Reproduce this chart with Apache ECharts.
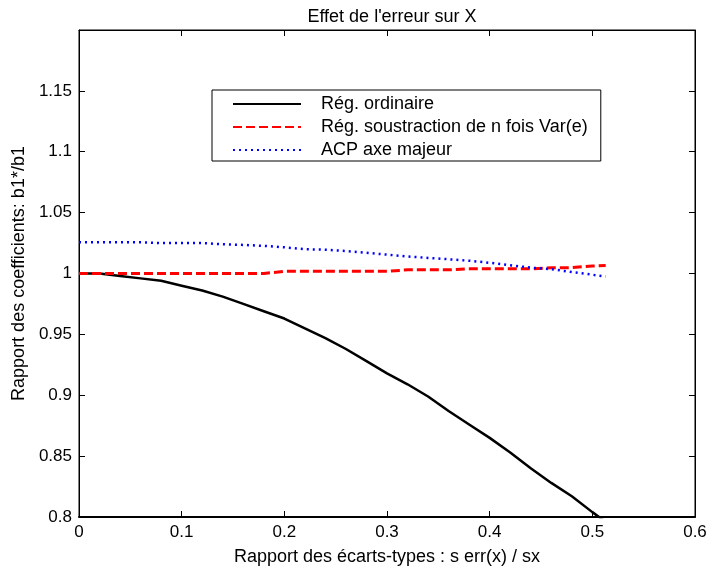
<!DOCTYPE html>
<html>
<head>
<meta charset="utf-8">
<script src="https://cdn.jsdelivr.net/npm/echarts@6/dist/echarts.min.js"></script>
<style>html,body{margin:0;padding:0;background:#fff}#c{width:712px;height:571px}</style>
</head>
<body>
<div id="c"></div>
<script>
var titleText = "Effet de l'erreur sur X";
var xLabel = "Rapport des écarts-types : s err(x) / sx";
var yLabel = "Rapport des coefficients: b1*/b1";
var seriesNames = ["Rég. ordinaire", "Rég. soustraction de n fois Var(e)", "ACP axe majeur"];
var xs = [0, 0.02, 0.04, 0.06, 0.08, 0.10, 0.12, 0.14, 0.16, 0.18, 0.20, 0.22, 0.24, 0.26, 0.28, 0.30, 0.32, 0.34, 0.36, 0.38, 0.40, 0.42, 0.44, 0.46, 0.48, 0.50, 0.513];
var ordinaire = [1.000, 1.000, 0.998, 0.996, 0.994, 0.990, 0.986, 0.981, 0.975, 0.969, 0.963, 0.955, 0.947, 0.938, 0.928, 0.918, 0.909, 0.899, 0.887, 0.876, 0.865, 0.853, 0.840, 0.828, 0.817, 0.804, 0.796];
var soustraction = [1.000, 1.000, 1.000, 1.000, 1.000, 1.000, 1.000, 1.000, 1.000, 1.000, 1.0018, 1.0018, 1.0018, 1.0018, 1.0018, 1.0018, 1.003, 1.003, 1.003, 1.0038, 1.0038, 1.0038, 1.0038, 1.0048, 1.0048, 1.0062, 1.0065];
var acp = [1.0257, 1.0257, 1.0257, 1.0257, 1.025, 1.025, 1.025, 1.024, 1.0235, 1.0227, 1.0215, 1.0200, 1.0195, 1.0185, 1.0170, 1.0155, 1.0140, 1.0128, 1.0117, 1.0105, 1.0088, 1.0068, 1.0048, 1.0036, 1.0012, 0.9990, 0.9975];
var xTicks = {min: 0, max: 0.6, interval: 0.1};
var yTicks = {min: 0.8, max: 1.2, interval: 0.05};

function pairs(ys) { return xs.map(function (x, i) { return [x, ys[i]]; }); }
var FONT = 'Liberation Sans, Arial, Helvetica, sans-serif';
var TXT = 18, TICK = 17;

var chart = echarts.init(document.getElementById('c'), null, {renderer: 'canvas'});
var axisCommon = {
  type: 'value',
  axisLine: {show: true, onZero: false, lineStyle: {color: '#000', width: 1}},
  axisTick: {show: true, inside: true, length: 6, lineStyle: {color: '#000', width: 1}},
  splitLine: {show: false}
};
chart.setOption({
  animation: false,
  backgroundColor: '#fff',
  title: {text: titleText, left: 387, top: 3, textAlign: 'center',
    textStyle: {fontFamily: FONT, fontSize: TXT, fontWeight: 'normal', color: '#000'}},
  grid: {left: 79, right: 17, top: 30, bottom: 53, show: true, borderColor: '#000', borderWidth: 1, backgroundColor: '#fff'},
  legend: {
    orient: 'vertical', left: 212, top: 90,
    padding: [5, 13, 2, 20], itemGap: 5, itemWidth: 68, itemHeight: 14,
    borderColor: '#000', borderWidth: 1, backgroundColor: '#fff', borderRadius: 0,
    itemStyle: {opacity: 0},
    textStyle: {fontFamily: FONT, fontSize: TXT, lineHeight: 18, color: '#000', padding: [0, 0, 0, 15]},
    data: seriesNames
  },
  xAxis: [
    Object.assign({}, axisCommon, {position: 'bottom', min: xTicks.min, max: xTicks.max, interval: xTicks.interval,
      axisLine: {show: true, onZero: false, lineStyle: {color: '#000', width: 2}},
      name: xLabel, nameLocation: 'middle', nameGap: 31,
      nameTextStyle: {fontFamily: FONT, fontSize: TXT, color: '#000'},
      axisLabel: {fontFamily: FONT, fontSize: TICK, color: '#000', margin: 7,
        formatter: function (v) { return String(+v.toFixed(2)); }}}),
    Object.assign({}, axisCommon, {position: 'top', min: xTicks.min, max: xTicks.max, interval: xTicks.interval,
      axisLabel: {show: false}})
  ],
  yAxis: [
    Object.assign({}, axisCommon, {position: 'left', min: yTicks.min, max: yTicks.max, interval: yTicks.interval,
      name: yLabel, nameLocation: 'middle', nameGap: 47,
      nameTextStyle: {fontFamily: FONT, fontSize: TXT, color: '#000'},
      axisLabel: {fontFamily: FONT, fontSize: TICK, color: '#000', margin: 7,
        formatter: function (v) { return v > 1.19 ? '' : String(+v.toFixed(2)); }}}),
    Object.assign({}, axisCommon, {position: 'right', min: yTicks.min, max: yTicks.max, interval: yTicks.interval,
      axisLabel: {show: false}})
  ],
  series: [
    {name: seriesNames[0], type: 'line', data: pairs(ordinaire), showSymbol: false, symbol: 'none', clip: true,
      lineStyle: {color: '#000', width: 2.5, type: 'solid'}, itemStyle: {color: '#000'}},
    {name: seriesNames[1], type: 'line', data: pairs(soustraction), showSymbol: false, symbol: 'none', clip: true,
      lineStyle: {color: '#ff0000', width: 3, type: [9, 4]}, itemStyle: {color: '#ff0000'}},
    {name: seriesNames[2], type: 'line', data: pairs(acp), showSymbol: false, symbol: 'none', clip: true,
      lineStyle: {color: '#0000ff', width: 2.5, type: [2, 4]}, itemStyle: {color: '#0000ff'}}
  ]
});
</script>
</body>
</html>
